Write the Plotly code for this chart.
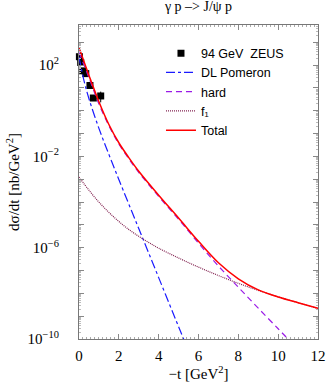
import plotly.graph_objects as go

# ZEUS 94 GeV data (|t| in GeV^2, log10 of dsigma/dt in nb/GeV^2)
zeus_t = [0.02, 0.085, 0.19, 0.34, 0.55, 0.72, 1.09]
zeus_log = [2.37, 2.12, 1.75, 1.63, 1.11, 0.56, 0.65]
zeus_err_up_log = [2.45, 2.2, 1.82, 1.7, 1.18, 0.64, 0.84]
zeus_err_dn_log = [2.29, 2.04, 1.68, 1.56, 1.04, 0.48, 0.37]

# Model curves (log10 values)
dl_t = [0, 0.25, 0.5, 1.0, 1.5, 2, 3, 4, 5, 5.3]
dl_log = [2.36, 1.32, 0.53, -0.77, -1.91, -3.01, -5.16, -7.31, -9.46, -10.1]

hard_t = [0, 0.5, 1, 1.5, 2, 2.5, 3, 4, 5, 6, 7, 8, 9, 10, 10.6]
hard_log = [2.56, 1.45, 0.3, -0.65, -1.45, -2.1, -2.7, -3.75, -4.75, -5.8, -6.8, -7.73, -8.65, -9.55, -10.1]

f1_t = [0, 0.5, 1, 1.5, 2, 2.5, 3, 3.5, 4, 5, 6, 7, 8, 9, 10, 11, 12]
f1_log = [-2.9, -3.48, -4.0, -4.45, -4.85, -5.2, -5.5, -5.77, -6.02, -6.45, -6.85, -7.22, -7.56, -7.87, -8.15, -8.41, -8.66]

tot_t = [0, 0.5, 1, 1.5, 2, 2.5, 3, 4, 5, 6, 7, 8, 9, 10, 11, 12]
tot_log = [2.77, 1.55, 0.4, -0.6, -1.4, -2.05, -2.65, -3.7, -4.7, -5.72, -6.66, -7.36, -7.85, -8.16, -8.41, -8.65]

x_ticks = [0, 2, 4, 6, 8, 10, 12]
y_decades = list(range(-10, 4))
y_labels = {2: "10<sup>2</sup>", -2: "10<sup>−2</sup>", -6: "10<sup>−6</sup>", -10: "10<sup>−10</sup>"}

def p(v):
    return [10 ** a for a in v]

fig = go.Figure()
zy = p(zeus_log)
fig.add_trace(go.Scatter(
    x=zeus_t, y=zy, mode="markers", name="94 GeV  ZEUS", cliponaxis=False,
    marker=dict(symbol="square", size=7, color="black"),
    error_y=dict(type="data", symmetric=False,
                 array=[u - c for u, c in zip(p(zeus_err_up_log), zy)],
                 arrayminus=[c - d for c, d in zip(zy, p(zeus_err_dn_log))],
                 color="black", thickness=1, width=0),
))
fig.add_trace(go.Scatter(x=dl_t, y=p(dl_log), mode="lines", name="DL Pomeron",
                         line=dict(color="#1a1aff", width=1.2, dash="dashdot", shape="spline")))
fig.add_trace(go.Scatter(x=hard_t, y=p(hard_log), mode="lines", name="hard",
                         line=dict(color="#9a1ae6", width=1.2, dash="6px,4px", shape="spline")))
fig.add_trace(go.Scatter(x=f1_t, y=p(f1_log), mode="lines", name="f₁",
                         line=dict(color="#80204f", width=1.2, dash="1px,1px", shape="spline")))
fig.add_trace(go.Scatter(x=tot_t, y=p(tot_log), mode="lines", name="Total",
                         line=dict(color="#ff0000", width=1.5, shape="spline")))

serif = "Liberation Serif, Times New Roman, serif"
fig.update_layout(
    width=327, height=387,
    margin=dict(l=79, r=9, t=25, b=48, autoexpand=False),
    plot_bgcolor="white", paper_bgcolor="white",
    title=dict(text="γ p –> J/ψ p", x=(79 + 318) / 2 / 327, xanchor="center",
               y=1 - 6 / 387, yanchor="middle", font=dict(family=serif, size=14, color="black")),
    showlegend=True,
    legend=dict(x=0.343, y=0.957, xanchor="left", yanchor="top", bgcolor="rgba(0,0,0,0)",
                font=dict(family="Liberation Sans, Arial, sans-serif", size=12.5, color="black"),
                itemwidth=30, tracegroupgap=0),
)
fig.update_xaxes(
    range=[0, 12], tickvals=x_ticks, ticktext=[str(v) for v in x_ticks], automargin=False,
    ticks="inside", ticklen=5, tickcolor="#888", mirror="allticks", ticklabelstandoff=3,
    showline=True, linecolor="#777", linewidth=1, showgrid=False, zeroline=False,
    tickfont=dict(family=serif, size=15, color="black"),
    minor=dict(dtick=0.2, ticks="inside", ticklen=2, tickcolor="#aaa", showgrid=False),
    title=dict(text="−t [GeV<sup>2</sup>]", font=dict(family=serif, size=15, color="black"), standoff=4),
)
fig.update_yaxes(
    type="log", range=[-10, 3.76], automargin=False,
    tickvals=[10 ** d for d in y_decades],
    ticktext=[y_labels.get(d, "") for d in y_decades],
    ticks="inside", ticklen=5, tickcolor="#888", mirror="allticks", ticklabelstandoff=16,
    showline=True, linecolor="#777", linewidth=1, showgrid=False, zeroline=False,
    tickfont=dict(family=serif, size=15, color="black"),
    minor=dict(dtick="D1", ticks="inside", ticklen=2, tickcolor="#bbb", showgrid=False),
    title=dict(text="dσ/dt [nb/GeV<sup>2</sup>]", font=dict(family=serif, size=15, color="black"), standoff=4),
)
fig.write_html("out.html", config={"displayModeBar": False},
               post_script="document.body.style.margin='0';document.body.style.padding='0';")
